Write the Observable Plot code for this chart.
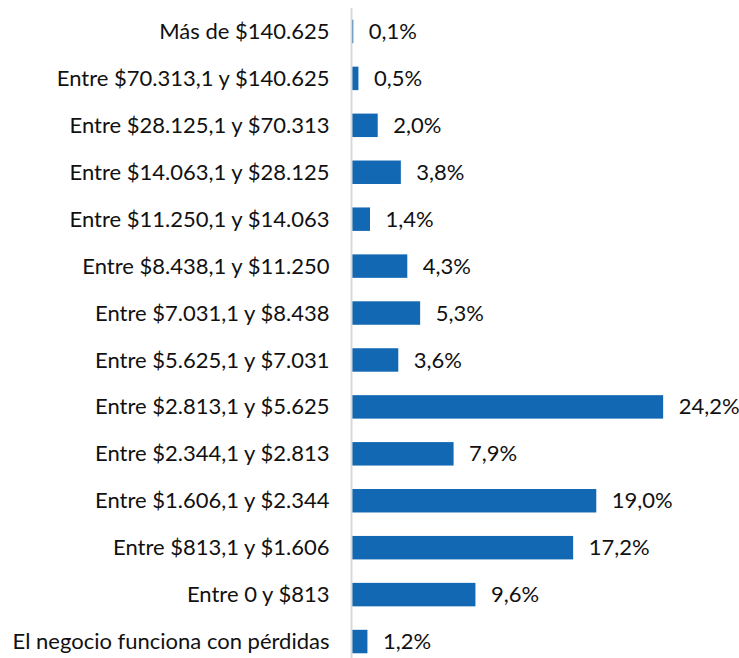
<!DOCTYPE html>
<html>
<head>
<meta charset="utf-8">
<script src="https://cdn.jsdelivr.net/npm/d3@7"></script>
<script src="https://cdn.jsdelivr.net/npm/@observablehq/plot@0.6"></script>
<style>
  html, body { margin: 0; padding: 0; background: #fff; overflow: hidden; }
  #chart svg { display: block; }
</style>
</head>
<body>
<div id="chart"></div>
<script>
const categories = [
  "Más de $140.625",
  "Entre $70.313,1 y $140.625",
  "Entre $28.125,1 y $70.313",
  "Entre $14.063,1 y $28.125",
  "Entre $11.250,1 y $14.063",
  "Entre $8.438,1 y $11.250",
  "Entre $7.031,1 y $8.438",
  "Entre $5.625,1 y $7.031",
  "Entre $2.813,1 y $5.625",
  "Entre $2.344,1 y $2.813",
  "Entre $1.606,1 y $2.344",
  "Entre $813,1 y $1.606",
  "Entre 0 y $813",
  "El negocio funciona con pérdidas"
];
const values = [0.1, 0.5, 2.0, 3.8, 1.4, 4.3, 5.3, 3.6, 24.2, 7.9, 19.0, 17.2, 9.6, 1.2];
const valueLabels = ["0,1%", "0,5%", "2,0%", "3,8%", "1,4%", "4,3%", "5,3%", "3,6%", "24,2%", "7,9%", "19,0%", "17,2%", "9,6%", "1,2%"];

const data = categories.map((c, i) => ({cat: c, v: values[i], label: valueLabels[i]}));

const chart = Plot.plot({
  width: 739,
  height: 665,
  marginLeft: 352,
  marginRight: 0,
  marginTop: 8,
  marginBottom: 0,
  style: {fontFamily: "Lato, 'Open Sans', sans-serif", fontSize: "22px", color: "#111", background: "#fff"},
  x: {domain: [0, 30.1], axis: null},
  y: {domain: categories, paddingInner: 0.5, paddingOuter: 0.25, round: false, label: null, tickSize: 0, tickPadding: 23},
  marks: [
    Plot.barX(data, {x: "v", y: "cat", fill: "#1368b3"}),
    Plot.ruleX([0], {stroke: "#d9d9d9", strokeWidth: 2, dx: -1}),
    Plot.text(data, {x: "v", y: "cat", text: "label", textAnchor: "start", dx: 15, fill: "#111", fontSize: 22})
  ]
});
document.getElementById("chart").appendChild(chart);
</script>
</body>
</html>
